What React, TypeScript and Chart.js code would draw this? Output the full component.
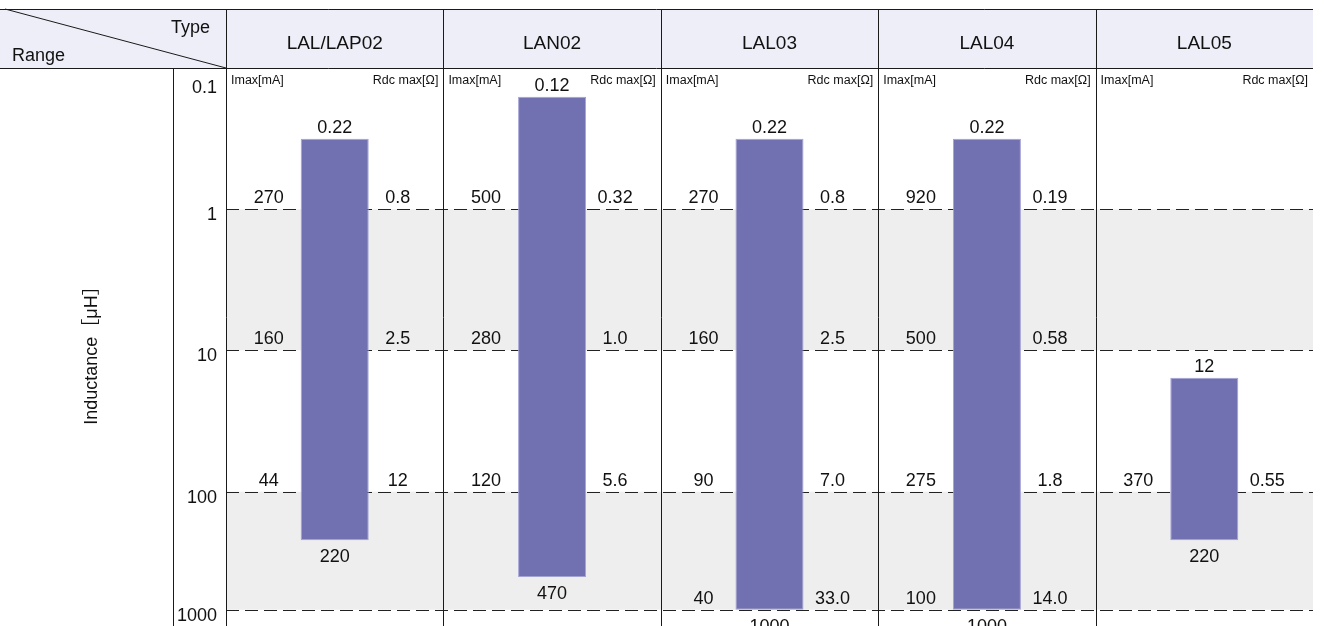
import React, { useEffect, useRef } from 'react';
import { Chart, registerables, LogarithmicScale } from 'chart.js';

// ---------------- data ----------------
const types = ['LAL/LAP02', 'LAN02', 'LAL03', 'LAL04', 'LAL05'];
const inductanceMin = [0.22, 0.12, 0.22, 0.22, 12];
const inductanceMax = [220, 470, 1000, 1000, 220];
const minLabels = ['0.22', '0.12', '0.22', '0.22', '12'];
const maxLabels = ['220', '470', '1000', '1000', '220'];

const rangeTicks = [0.1, 1, 10, 100, 1000];
const rangeTickLabels = ['0.1', '1', '10', '100', '1000'];
const gridLevels = [1, 10, 100, 1000];
const shadedBands: [number, number][] = [[1, 10], [100, 1000]];

// Imax [mA] per type at each grid level (1, 10, 100, 1000 µH)
const imaxLabels: (string | null)[][] = [
  ['270', '160', '44', null],
  ['500', '280', '120', null],
  ['270', '160', '90', '40'],
  ['920', '500', '275', '100'],
  [null, null, '370', null],
];
// Rdc max [Ω] per type at each grid level
const rdcLabels: (string | null)[][] = [
  ['0.8', '2.5', '12', null],
  ['0.32', '1.0', '5.6', null],
  ['0.8', '2.5', '7.0', '33.0'],
  ['0.19', '0.58', '1.8', '14.0'],
  [null, null, '0.55', null],
];

const axisTitle = 'Inductance［μH］';
const cornerTop = 'Type';
const cornerBottom = 'Range';
const imaxHeader = 'Imax[mA]';
const rdcHeader = 'Rdc max[Ω]';

// The source drawing uses a schematic (not strictly uniform) log axis.
// Calibration: value -> fraction of the axis height measured from the top.
const axisCalValues = [0.1, 0.12, 0.22, 1, 10, 12, 100, 220, 470, 1000, 1370];
const axisCalFractions = [0, 0.0514, 0.1267, 0.2532, 0.5059, 0.555, 0.7593, 0.8464, 0.9122, 0.9708, 1];

// ---------------- styles ----------------
const FONT = '"Liberation Sans", Arial, Helvetica, sans-serif';
const BAR_FILL = '#7170b0';
const BAR_EDGE = '#a3a2d4';
const HEADER_BG = '#eeeef8';
const BAND_BG = '#eeeeee';
const LINE = '#1a1a1a';

function valueToFraction(v: number): number {
  const lv = Math.log10(v);
  const n = axisCalValues.length;
  for (let i = 0; i < n - 1; i++) {
    const a = Math.log10(axisCalValues[i]);
    const b = Math.log10(axisCalValues[i + 1]);
    if (lv <= b || i === n - 2) {
      const t = (lv - a) / (b - a);
      return axisCalFractions[i] + t * (axisCalFractions[i + 1] - axisCalFractions[i]);
    }
  }
  return 0;
}

function fractionToValue(f: number): number {
  const n = axisCalFractions.length;
  for (let i = 0; i < n - 1; i++) {
    const a = axisCalFractions[i];
    const b = axisCalFractions[i + 1];
    if (f <= b || i === n - 2) {
      const t = (f - a) / (b - a);
      const la = Math.log10(axisCalValues[i]);
      const lb = Math.log10(axisCalValues[i + 1]);
      return Math.pow(10, la + t * (lb - la));
    }
  }
  return axisCalValues[0];
}

class CalibratedLogScale extends LogarithmicScale {
  static id = 'calibratedLog';
  getPixelForValue(value: number) {
    if (value === undefined || value === null || isNaN(value) || value <= 0) {
      value = (this as any).min;
    }
    return this.getPixelForDecimal(valueToFraction(value));
  }
  getValueForPixel(pixel: number) {
    return fractionToValue(this.getDecimalForPixel(pixel));
  }
}

Chart.register(...registerables, CalibratedLogScale as any);

const tablePlugin = {
  id: 'tablePlugin',
  beforeDatasetsDraw(chart: any) {
    const { ctx, chartArea } = chart;
    const y = chart.scales.y;
    const { left, right, top, bottom } = chartArea;
    const headerTop = top - 59;
    const colW = (right - left) / types.length;
    ctx.save();

    // header background
    ctx.fillStyle = HEADER_BG;
    ctx.fillRect(0, headerTop, right, top - headerTop);

    // shaded bands
    ctx.fillStyle = BAND_BG;
    shadedBands.forEach(([a, b]) => {
      const ya = y.getPixelForValue(a);
      const yb = y.getPixelForValue(b);
      ctx.fillRect(left, ya, right - left, yb - ya);
    });

    // dashed grid lines
    ctx.strokeStyle = '#222';
    ctx.lineWidth = 1;
    ctx.setLineDash([13, 6]);
    gridLevels.forEach((v) => {
      const py = Math.round(y.getPixelForValue(v)) + 0.5;
      ctx.beginPath();
      ctx.moveTo(left, py);
      ctx.lineTo(right, py);
      ctx.stroke();
    });
    ctx.setLineDash([]);

    // solid table lines
    ctx.strokeStyle = LINE;
    ctx.beginPath();
    ctx.moveTo(0, headerTop + 0.5);
    ctx.lineTo(right, headerTop + 0.5);
    ctx.moveTo(0, top + 0.5);
    ctx.lineTo(right, top + 0.5);
    for (let k = 0; k < types.length; k++) {
      const x = Math.round(left + k * colW) + 0.5;
      ctx.moveTo(x, headerTop);
      ctx.lineTo(x, bottom);
    }
    ctx.moveTo(173.5, top);
    ctx.lineTo(173.5, bottom);
    // corner diagonal
    ctx.moveTo(5, headerTop);
    ctx.lineTo(left, top);
    ctx.stroke();

    // header texts
    ctx.fillStyle = '#111';
    ctx.font = `18px ${FONT}`;
    ctx.textBaseline = 'alphabetic';
    ctx.textAlign = 'right';
    ctx.fillText(cornerTop, left - 16, headerTop + 24);
    ctx.textAlign = 'left';
    ctx.fillText(cornerBottom, 12, top - 7);
    ctx.textAlign = 'center';
    ctx.font = `19px ${FONT}`;
    types.forEach((t, k) => {
      ctx.fillText(t, left + (k + 0.5) * colW, headerTop + 40);
    });

    // sub headers
    ctx.font = `12.5px ${FONT}`;
    types.forEach((_, k) => {
      const cl = left + k * colW;
      ctx.textAlign = 'left';
      ctx.fillText(imaxHeader, cl + 5, top + 16);
      ctx.textAlign = 'right';
      ctx.fillText(rdcHeader, cl + colW - 5, top + 16);
    });

    // range tick labels
    ctx.font = `18px ${FONT}`;
    ctx.textAlign = 'right';
    rangeTicks.forEach((v, i) => {
      const py = y.getPixelForValue(v);
      ctx.fillText(rangeTickLabels[i], left - 9, Math.max(py + 11, top + 25));
    });

    // axis title
    ctx.save();
    ctx.font = `18px ${FONT.replace('sans-serif', '"Noto Sans CJK JP", sans-serif')}`;
    ctx.translate(92, (top + bottom) / 2 + 4);
    ctx.rotate(-Math.PI / 2);
    ctx.textAlign = 'center';
    ctx.textBaseline = 'middle';
    ctx.fillText(axisTitle, 0, 0);
    ctx.restore();

    ctx.restore();
  },
  afterDatasetsDraw(chart: any) {
    const { ctx } = chart;
    const y = chart.scales.y;
    const meta = chart.getDatasetMeta(0);
    ctx.save();
    ctx.fillStyle = '#111';
    ctx.font = `18px ${FONT}`;
    ctx.textBaseline = 'alphabetic';
    meta.data.forEach((bar: any, i: number) => {
      const props = bar.getProps(['x', 'y', 'base', 'width'], true);
      const bl = props.x - props.width / 2;
      const br = props.x + props.width / 2;
      const bt = Math.min(props.y, props.base);
      const bb = Math.max(props.y, props.base);
      ctx.textAlign = 'center';
      ctx.fillText(minLabels[i], props.x, bt - 6);
      ctx.fillText(maxLabels[i], props.x, bb + 22);
      gridLevels.forEach((lv, j) => {
        const py = y.getPixelForValue(lv);
        const im = imaxLabels[i][j];
        const rd = rdcLabels[i][j];
        if (im) ctx.fillText(im, bl - 32, py - 6);
        if (rd) ctx.fillText(rd, br + 29, py - 6);
      });
    });
    ctx.restore();
  },
};

export default function App() {
  const canvasRef = useRef<HTMLCanvasElement | null>(null);

  useEffect(() => {
    const canvas = canvasRef.current;
    if (!canvas) return;
    const chart = new Chart(canvas, {
      type: 'bar',
      data: {
        labels: types,
        datasets: [
          {
            data: types.map((_, i) => [inductanceMin[i], inductanceMax[i]]) as any,
            backgroundColor: BAR_FILL,
            borderColor: BAR_EDGE,
            borderWidth: 1,
            borderSkipped: false,
            categoryPercentage: 1,
            barPercentage: 0.313,
          },
        ],
      },
      options: {
        responsive: false,
        animation: false,
        layout: { padding: { left: 226, top: 68, right: 11, bottom: 0 } },
        plugins: {
          legend: { display: false },
          tooltip: { enabled: false },
          title: { display: false },
        },
        scales: {
          x: { type: 'category', display: false, offset: true, grid: { display: false } },
          y: {
            type: 'calibratedLog' as any,
            display: false,
            reverse: true,
            min: 0.1,
            max: 1370,
          },
        },
      },
      plugins: [tablePlugin],
    });
    return () => chart.destroy();
  }, []);

  return (
    <div style={{ position: 'absolute', left: 0, top: 0, width: 1324, height: 626, background: '#fff', overflow: 'hidden' }}>
      <canvas ref={canvasRef} width={1324} height={626} style={{ display: 'block' }} />
    </div>
  );
}
